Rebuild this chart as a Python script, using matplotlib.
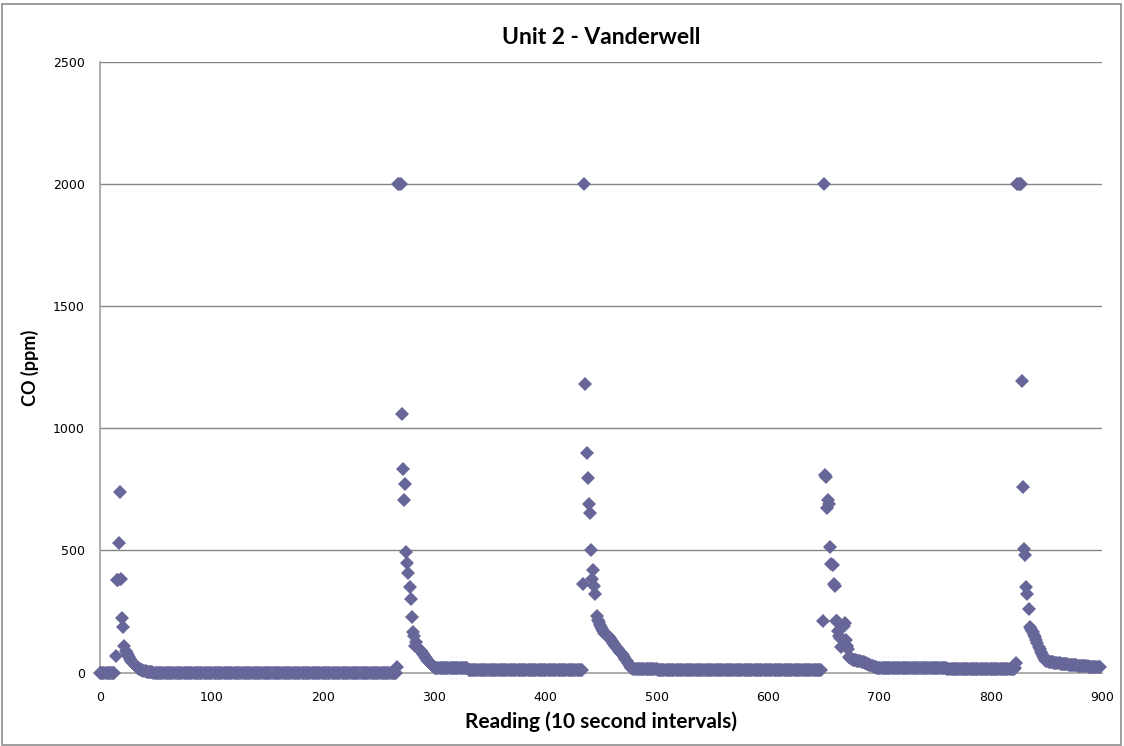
import matplotlib
matplotlib.use('Agg')
import matplotlib.pyplot as plt
from matplotlib.patches import Rectangle

##
## CO readings, Unit 2 - Vanderwell
##

# flat stretches between the bursts: (first reading, last reading, CO ppm)
flat_runs = [
    (0, 13, 0),
    (48, 266, 0),
    (301, 330, 18),
    (331, 380, 12),
    (381, 432, 10),
    (480, 500, 14),
    (501, 647, 10),
    (701, 760, 18),
    (761, 820, 15),
]

# bursts: first reading, then one CO value per reading
burst1_start = 14
burst1_co = [68, 381, 381, 529, 740, 385, 223, 185, 107, 90,
             79, 70, 62, 55, 48, 42, 37, 32, 27, 23,
             19, 16, 13, 11, 9, 7, 6, 5, 4, 3,
             2, 2, 1, 1]

burst2_start = 267
burst2_co = [23, 2000, 2000, 2000, 1058, 834, 708, 772, 493, 447,
             406, 351, 300, 226, 164, 150, 110, 125, 105, 100,
             92, 88, 82, 76, 70, 64, 58, 52, 46, 40,
             35, 31, 27, 24]

burst3_start = 433
burst3_co = [12, 362, 2000, 1182, 898, 796, 691, 654, 501, 383,
             418, 353, 322, 231, 215, 205, 195, 185, 178, 170,
             162, 158, 152, 150, 145, 140, 135, 130, 122, 115,
             108, 100, 95, 90, 85, 80, 75, 70, 62, 55,
             48, 40, 33, 26, 20, 17, 15]

burst4_start = 648
burst4_co = [12, 213, 2000, 809, 800, 672, 705, 690, 515, 443,
             440, 361, 355, 213, 210, 169, 150, 140, 105, 135,
             189, 201, 134, 110, 95, 65, 60, 55, 53, 51,
             50, 50, 49, 48, 47, 46, 45, 44, 42, 40,
             38, 36, 34, 32, 30, 28, 26, 24, 22, 21,
             20, 19, 18]

burst5_start = 821
burst5_co = [15, 18, 37, 2000, 2000, 2000, 2000, 1195, 762, 504,
             482, 351, 321, 262, 185, 178, 170, 165, 155, 145,
             135, 120, 105, 95, 85, 75, 66, 58, 52, 48,
             46, 45, 44, 43, 42, 41, 40, 40, 39, 38,
             38, 37, 36, 36, 35, 34, 34, 33, 33, 32,
             32, 31, 31, 30, 30, 29, 29, 28, 28, 27,
             27, 27, 26, 26, 25, 25, 25, 24, 24, 24,
             23, 23, 23, 22, 22, 22, 21, 21]

y_ticks = [0, 500, 1000, 1500, 2000, 2500]
x_ticks = [0, 100, 200, 300, 400, 500, 600, 700, 800, 900]

reading = []
co = []
for first, last, level in flat_runs:
    reading += list(range(first, last + 1))
    co += [level] * (last - first + 1)
for start, vals in [(burst1_start, burst1_co), (burst2_start, burst2_co),
                    (burst3_start, burst3_co), (burst4_start, burst4_co),
                    (burst5_start, burst5_co)]:
    reading += list(range(start, start + len(vals)))
    co += vals

fig = plt.figure(figsize=(11.24, 7.46), dpi=100)
ax = fig.add_axes([100 / 1124, 73.5 / 746, 1002 / 1124, 610.2 / 746])

# chart area border
fig.patches.append(Rectangle((2 / 1124, 1 / 746), 1119 / 1124, 741 / 746,
                             transform=fig.transFigure, fill=False,
                             edgecolor='#8c8c8c', linewidth=1.2))

for y in y_ticks[1:]:
    ax.axhline(y, color='#868686', linewidth=1.0, zorder=1)

ax.plot(reading, co, linestyle='none', marker='D', markersize=7.3,
        color='#666699', markeredgewidth=0, zorder=3, clip_on=False)

ax.set_xlim(0, 900)
ax.set_ylim(0, 2500)
ax.set_xticks(x_ticks)
ax.set_yticks(y_ticks)
for s in ['top', 'right']:
    ax.spines[s].set_visible(False)
for s in ['left', 'bottom']:
    ax.spines[s].set_color('#a0a0a0')
    ax.spines[s].set_linewidth(1.2)
ax.tick_params(axis='y', length=0, pad=11, labelsize=9)
ax.tick_params(axis='x', length=0, pad=13, labelsize=9)

ax.set_title('Unit 2 - Vanderwell', fontsize=16.5, fontweight='bold',
             family='Lato', pad=13)
ax.set_xlabel('Reading (10 second intervals)', fontsize=15,
              fontweight='bold', family='Lato', labelpad=6)
ax.set_ylabel('CO (ppm)', fontsize=13, fontweight='bold', family='Lato',
              labelpad=10)

plt.savefig('out.png', dpi=100)
